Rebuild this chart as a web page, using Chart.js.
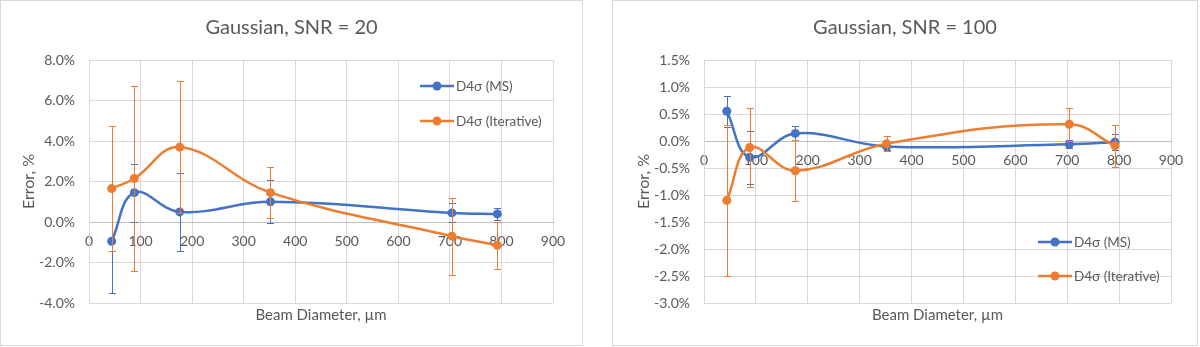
<!DOCTYPE html>
<html lang="en">
<head>
<meta charset="UTF-8">
<title>Gaussian beam error</title>
<script src="https://cdn.jsdelivr.net/npm/chart.js"></script>
<style>
    body { margin: 0; background: #fff; }
    .box { position: absolute; top: 0; height: 346px; border: 1px solid #d9d9d9; box-sizing: border-box; background: #fff; }
    #boxLeft { left: 0; width: 583px; }
    #boxRight { left: 612px; width: 586px; }
    canvas { display: block; }
</style>
</head>
<body>
<div class="box" id="boxLeft"><canvas id="chartLeft" width="581" height="344"></canvas></div>
<div class="box" id="boxRight"><canvas id="chartRight" width="584" height="344"></canvas></div>

<script>
    // beam diameter, um (same for both panels)
    const beamDiameter = [44, 88, 176, 352, 704, 792];

    // SNR = 20
    const snr20MS = [-0.95, 1.45, 0.5, 1.0, 0.45, 0.4];
    const snr20MSErr = [2.55, 1.43, 1.92, 1.07, 0.47, 0.31];
    const snr20Iter = [1.65, 2.15, 3.7, 1.45, -0.7, -1.15];
    const snr20IterErr = [3.1, 4.55, 3.25, 1.27, 1.9, 1.15];

    // SNR = 100
    const snr100MS = [0.55, -0.3, 0.14, -0.1, -0.06, -0.02];
    const snr100MSErr = [0.29, 0.49, 0.13, 0.07, 0.07, 0.15];
    const snr100Iter = [-1.1, -0.12, -0.55, -0.05, 0.31, -0.09];
    const snr100IterErr = [1.4, 0.73, 0.56, 0.14, 0.31, 0.39];

    const seriesNames = ['D4σ (MS)', 'D4σ (Iterative)'];
    const blue = '#4472C4';
    const orange = '#ED7D31';
    const textColor = '#595959';
    const fontFamily = 'Lato, "Open Sans", sans-serif';

    function points(ys) {
        return beamDiameter.map((x, i) => ({ x: x, y: ys[i] }));
    }

    // vertical error bars, drawn from the dataset's "errors" array
    const errorBars = {
        id: 'errorBars',
        beforeDatasetDraw(chart, args) {
            const ds = chart.data.datasets[args.index];
            if (!ds.errors) return;
            const xs = chart.scales.x, ys = chart.scales.y;
            const ctx = chart.ctx;
            ctx.save();
            ctx.strokeStyle = ds.borderColor;
            ctx.lineWidth = 1;
            ds.data.forEach((p, i) => {
                const px = Math.round(xs.getPixelForValue(p.x)) + 0.5;
                const top = Math.round(ys.getPixelForValue(p.y + ds.errors[i])) + 0.5;
                const bot = Math.round(ys.getPixelForValue(p.y - ds.errors[i])) + 0.5;
                ctx.beginPath();
                ctx.moveTo(px, top); ctx.lineTo(px, bot);
                ctx.moveTo(px - 3.5, top); ctx.lineTo(px + 3.5, top);
                ctx.moveTo(px - 3.5, bot); ctx.lineTo(px + 3.5, bot);
                ctx.stroke();
            });
            ctx.restore();
        }
    };

    // legend inside the plot area, Excel style
    const innerLegend = {
        id: 'innerLegend',
        afterDraw(chart, args, opts) {
            const ctx = chart.ctx;
            const area = chart.chartArea;
            const x0 = area.right - 133;
            const ys = opts.bottom ? [area.bottom - 61, area.bottom - 27] : [area.top + 26, area.top + 61];
            ctx.save();
            chart.data.datasets.forEach((ds, i) => {
                const y = ys[i];
                ctx.strokeStyle = ds.borderColor;
                ctx.lineWidth = 2.5;
                ctx.beginPath();
                ctx.moveTo(x0, y); ctx.lineTo(x0 + 34, y);
                ctx.stroke();
                ctx.fillStyle = ds.borderColor;
                ctx.beginPath();
                ctx.arc(x0 + 17, y, 4.5, 0, Math.PI * 2);
                ctx.fill();
                ctx.fillStyle = textColor;
                ctx.font = '13.5px ' + fontFamily;
                ctx.textBaseline = 'middle';
                ctx.fillText(ds.label, x0 + 36, y + 1);
            });
            ctx.restore();
        }
    };

    function makeChart(id, title, ms, msErr, iter, iterErr, yMin, yMax, yStep, opt) {
        const ctx = document.getElementById(id).getContext('2d');
        return new Chart(ctx, {
            type: 'line',
            data: {
                datasets: [
                    { label: seriesNames[0], data: points(ms), errors: msErr, borderColor: blue, backgroundColor: blue, order: 1 },
                    { label: seriesNames[1], data: points(iter), errors: iterErr, borderColor: orange, backgroundColor: orange, order: 0 }
                ]
            },
            options: {
                responsive: false,
                animation: false,
                layout: { padding: 0 },
                elements: {
                    line: { borderWidth: 2.5, tension: 0.4 },
                    point: { radius: 4.5, borderWidth: 0, hoverRadius: 4.5 }
                },
                plugins: {
                    legend: { display: false },
                    tooltip: { enabled: false },
                    title: {
                        display: true,
                        text: title,
                        color: textColor,
                        font: { family: fontFamily, size: 20, weight: 'normal' },
                        padding: { top: 15, bottom: 20 }
                    },
                    innerLegend: { bottom: opt.legendBottom }
                },
                scales: {
                    x: {
                        type: 'linear',
                        position: { y: 0 },
                        min: 0, max: 900,
                        ticks: { stepSize: 100, color: textColor, padding: 11, font: { family: fontFamily, size: 14 } },
                        grid: { color: '#d9d9d9', drawTicks: false },
                        border: { color: '#bfbfbf' }
                    },
                    xTitle: {
                        type: 'linear',
                        axis: 'x',
                        position: 'bottom',
                        min: 0, max: 900,
                        ticks: { display: false },
                        grid: { display: false, drawTicks: false },
                        border: { display: false },
                        title: {
                            display: true,
                            text: 'Beam Diameter, µm',
                            color: textColor,
                            font: { family: fontFamily, size: 15 },
                            padding: { top: 0, bottom: 21 }
                        },
                        afterFit(s) { s.height = 42; }
                    },
                    y: {
                        type: 'linear',
                        min: yMin, max: yMax,
                        ticks: {
                            stepSize: yStep,
                            color: textColor,
                            padding: 14,
                            font: { family: fontFamily, size: 14 },
                            callback: v => v.toFixed(1) + '%'
                        },
                        grid: { color: '#d9d9d9', drawTicks: false },
                        border: { color: '#d9d9d9' },
                        title: {
                            display: true,
                            text: 'Error, %',
                            color: textColor,
                            font: { family: fontFamily, size: 16 },
                            padding: { top: opt.yTitlePad, bottom: 0 }
                        },
                        afterFit(s) { s.width = opt.yWidth; }
                    },
                    // empty right-hand axis, only keeps the margin right of the plot
                    yMargin: {
                        type: 'linear',
                        axis: 'y',
                        position: 'right',
                        min: yMin, max: yMax,
                        ticks: { display: false },
                        grid: { display: false, drawTicks: false },
                        border: { display: false },
                        afterFit(s) { s.width = opt.padRight; }
                    }
                }
            },
            plugins: [errorBars, innerLegend]
        });
    }

    makeChart('chartLeft', 'Gaussian, SNR = 20', snr20MS, snr20MSErr, snr20Iter, snr20IterErr, -4, 8, 2,
        { padRight: 29, yWidth: 88, yTitlePad: 18.4, legendBottom: false });
    makeChart('chartRight', 'Gaussian, SNR = 100', snr100MS, snr100MSErr, snr100Iter, snr100IterErr, -3, 1.5, 0.5,
        { padRight: 26, yWidth: 91, yTitlePad: 21.4, legendBottom: true });
</script>
</body>
</html>
